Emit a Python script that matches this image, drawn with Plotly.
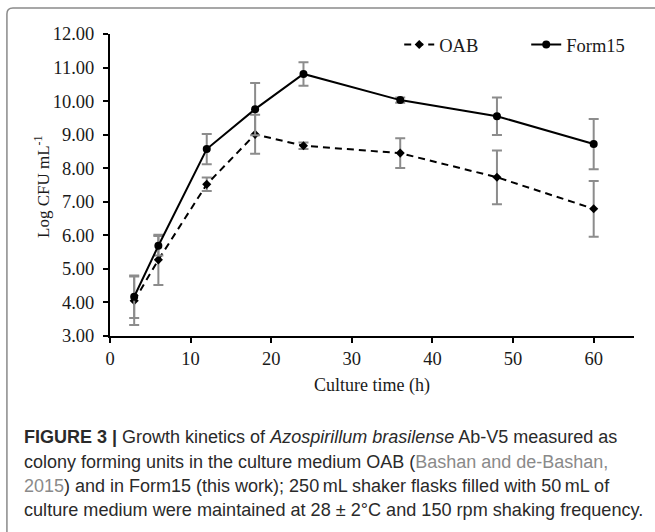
import plotly.graph_objects as go

# ---- data ----
time_h = [3, 6, 12, 18, 24, 36, 48, 60]
oab = [4.05, 5.27, 7.52, 9.01, 8.67, 8.45, 7.73, 6.79]
oab_err = [0.72, 0.75, 0.20, 0.58, 0.10, 0.44, 0.80, 0.83]
form15 = [4.17, 5.69, 8.57, 9.76, 10.81, 10.03, 9.55, 8.72]
form15_err = [0.63, 0.29, 0.45, 0.78, 0.35, 0.08, 0.56, 0.75]
series_names = ["OAB", "Form15"]
x_title = "Culture time (h)"
y_title = "Log CFU mL<sup>-1</sup>"

caption_lines = [
    "<b>FIGURE 3 |</b> Growth kinetics of <i>Azospirillum brasilense</i> Ab-V5 measured as",
    "colony forming units in the culture medium OAB (<span style='color:#8a8a8a'>Bashan and de-Bashan,</span>",
    "<span style='color:#8a8a8a'>2015</span>) and in Form15 (this work); 250\u2009mL shaker flasks filled with 50\u2009mL of",
    "culture medium were maintained at 28 \u00b1 2\u00b0C and 150 rpm shaking frequency.",
]

W, H = 655, 532
ML, MR, MT, MB = 110, 21.4, 34, 196
PW = W - ML - MR
PH = H - MT - MB

def px_x(px):
    return (px - ML) / PW

def px_y(py):
    return (H - MB - py) / PH

serif = "Liberation Serif"
sans = "Liberation Sans"
ink = "#1a1a1a"
err_col = "#8c8c8c"

fig = go.Figure()
fig.add_trace(go.Scatter(
    x=time_h, y=oab, name=series_names[0], mode="lines+markers",
    line=dict(color="black", width=2, dash="7px,5px"),
    marker=dict(symbol="diamond", size=7, color="black"),
    error_y=dict(type="data", array=oab_err, visible=True, color=err_col, thickness=2, width=5),
))
fig.add_trace(go.Scatter(
    x=time_h, y=form15, name=series_names[1], mode="lines+markers",
    line=dict(color="black", width=2),
    marker=dict(symbol="circle", size=8, color="black"),
    error_y=dict(type="data", array=form15_err, visible=True, color=err_col, thickness=2, width=5),
))

axis_common = dict(showgrid=False, zeroline=False, showline=True, linecolor="black", linewidth=2,
                   ticks="outside", ticklen=5, tickwidth=2, tickcolor="black",
                   tickfont=dict(family=serif, size=18.5, color=ink))

fig.update_layout(
    width=W, height=H,
    margin=dict(l=ML, r=MR, t=MT, b=MB, autoexpand=False),
    paper_bgcolor="white", plot_bgcolor="white",
    xaxis=dict(range=[0, 65], dtick=10, tick0=0, ticklabelstandoff=0, automargin=False, **axis_common,
               title=dict(text=x_title, font=dict(family=serif, size=18, color=ink), standoff=10)),
    yaxis=dict(range=[3, 12], dtick=1, tick0=3, tickformat=".2f", ticklabelstandoff=5, automargin=False,
               **axis_common),
    xaxis2=dict(overlaying="x", matches="x", range=[0, 65], dtick=10, tick0=0, showgrid=False, zeroline=False,
                showline=False, ticks="inside", ticklen=5, tickwidth=2, tickcolor="black",
                showticklabels=False, anchor="y"),
    yaxis2=dict(overlaying="y", matches="y", range=[3, 12], dtick=1, tick0=3, showgrid=False, zeroline=False,
                showline=False, ticks="inside", ticklen=5, tickwidth=2, tickcolor="black",
                showticklabels=False, anchor="x"),
    showlegend=True,
    legend=dict(orientation="h", x=px_x(399), y=px_y(45), xanchor="left", yanchor="middle",
                font=dict(family=serif, size=18.5, color=ink), bgcolor="rgba(0,0,0,0)",
                entrywidth=82, entrywidthmode="pixels", tracegroupgap=0),
)

# y-axis title placed precisely
fig.add_annotation(text=y_title, textangle=-90, xref="paper", yref="paper",
                   x=px_x(42), y=px_y(186), xanchor="center", yanchor="middle", showarrow=False,
                   font=dict(family=serif, size=17, color=ink))

# frame lines (top and left) around the figure panel
x0, x1 = px_x(7), px_x(W + 5)
y0, y1 = px_y(H + 5), px_y(8)
r_x, r_y = 6 / PW, 6 / PH
fig.add_shape(type="path", xref="paper", yref="paper",
              path=f"M {x0},{y0} L {x0},{y1 - r_y} Q {x0},{y1} {x0 + r_x},{y1} L {x1},{y1}",
              line=dict(color="#8a8a8a", width=1.5), layer="above")

# caption
line_y = [437, 461.5, 486, 510]
line_size = [18, 18, 18, 18.1]
for txt, py, fs in zip(caption_lines, line_y, line_size):
    fig.add_annotation(text=txt, xref="paper", yref="paper", x=px_x(22), y=px_y(py),
                       xanchor="left", yanchor="middle", showarrow=False, align="left",
                       font=dict(family=sans, size=fs, color="#2a2a2a"))

fig.write_html("out.html", config={"displayModeBar": False},
               post_script="document.body.style.margin='0';document.body.style.overflow='hidden';")
